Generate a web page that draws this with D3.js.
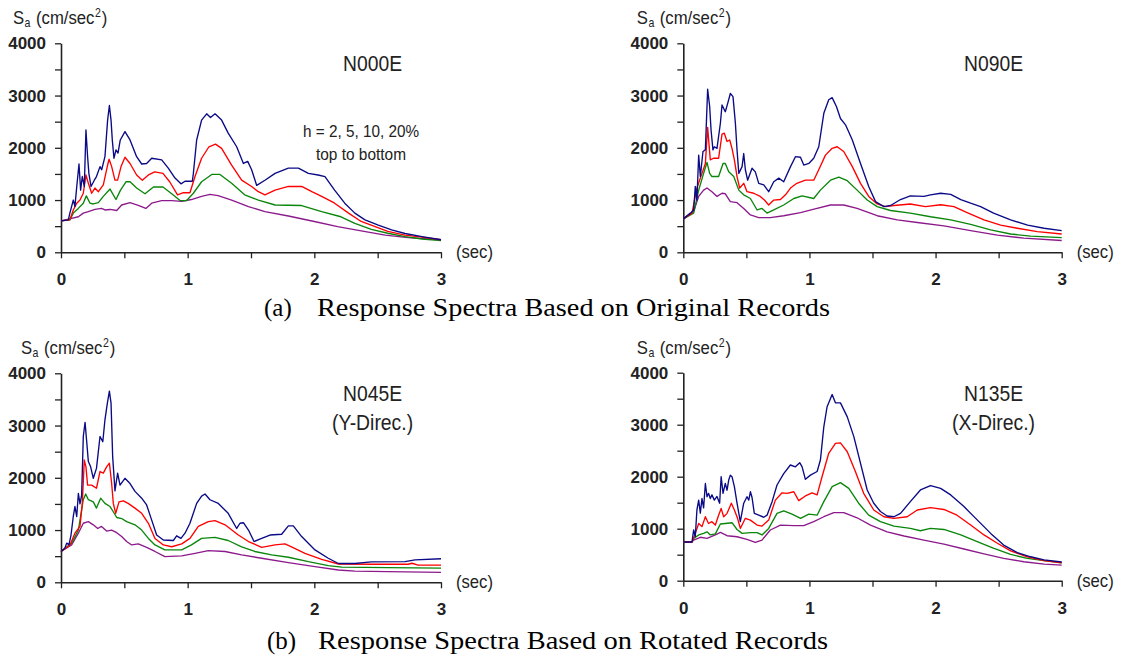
<!DOCTYPE html>
<html>
<head>
<meta charset="utf-8">
<script src="https://cdn.jsdelivr.net/npm/d3@7"></script>
<style>
  body { margin: 0; background: #fff; }
  svg { display: block; }
  .tick text { font-family: "Liberation Sans", Arial, sans-serif; font-weight: bold; font-size: 17px; fill: #222; }
  .lbl { font-family: "Liberation Sans", Arial, sans-serif; fill: #222; }
  .cap { font-family: "Liberation Serif", "Times New Roman", serif; font-size: 25px; fill: #000; }
</style>
</head>
<body>
<svg width="1126" height="659"></svg>
<script>
// tick values
const yTicks = [0, 500, 1000, 1500, 2000, 2500, 3000, 3500, 4000];
const xTicks = [0, 0.5, 1, 1.5, 2, 2.5, 3];

// damping ratios, one curve each (top to bottom)
const damping = ['h=2%', 'h=5%', 'h=10%', 'h=20%'];
const lineColors = ['#0a0a86', '#ff0000', '#0a860a', '#8c1a8c'];

// [period (sec), Sa (cm/sec2)]
const n000e_h2 = [[0,600],[0.058,620],[0.07,750],[0.097,1000],[0.11,880],[0.124,1250],[0.142,1690],[0.155,1190],[0.168,1450],[0.184,1260],[0.197,2340],[0.21,1830],[0.22,1510],[0.237,1260],[0.263,1380],[0.28,1450],[0.308,1640],[0.321,1580],[0.347,1830],[0.368,2530],[0.382,2810],[0.395,2530],[0.405,2150],[0.418,1800],[0.434,1960],[0.45,1900],[0.468,2150],[0.505,2310],[0.545,2150],[0.597,1830],[0.637,1690],[0.676,1700],[0.716,1800],[0.795,1770],[0.847,1610],[0.9,1420],[0.947,1310],[0.979,1360],[1.037,1360],[1.045,1510],[1.071,2150],[1.11,2530],[1.15,2650],[1.18,2580],[1.216,2650],[1.268,2530],[1.32,2280],[1.387,2020],[1.44,1700],[1.474,1740],[1.505,1580],[1.545,1280],[1.61,1380],[1.69,1510],[1.795,1610],[1.874,1610],[1.953,1510],[2.03,1480],[2.084,1450],[2.16,1190],[2.24,940],[2.32,750],[2.4,620],[2.505,520],[2.61,430],[2.716,360],[2.85,300],[3.0,240]];
const n000e_h5 = [[0,600],[0.07,620],[0.097,810],[0.124,940],[0.15,1000],[0.176,1130],[0.197,1480],[0.216,1320],[0.242,1130],[0.268,1230],[0.295,1160],[0.334,1290],[0.368,1670],[0.38,1780],[0.4,1640],[0.426,1380],[0.447,1380],[0.474,1640],[0.505,1820],[0.545,1700],[0.597,1480],[0.642,1380],[0.69,1480],[0.74,1540],[0.805,1510],[0.858,1350],[0.92,1100],[0.966,1140],[1.018,1140],[1.058,1450],[1.11,1800],[1.168,2020],[1.22,2070],[1.268,1990],[1.347,1670],[1.426,1380],[1.505,1260],[1.558,1160],[1.61,1100],[1.69,1190],[1.795,1260],[1.9,1260],[1.98,1160],[2.058,1070],[2.16,940],[2.27,750],[2.37,590],[2.48,490],[2.58,400],[2.716,330],[2.85,290],[3.0,240]];
const n000e_h10 = [[0,600],[0.07,620],[0.097,750],[0.137,840],[0.176,940],[0.2,1080],[0.229,940],[0.255,925],[0.295,950],[0.334,1070],[0.387,1210],[0.434,1010],[0.47,1190],[0.513,1350],[0.545,1350],[0.597,1230],[0.663,1120],[0.73,1250],[0.805,1250],[0.874,1120],[0.94,990],[0.992,990],[1.045,1130],[1.11,1350],[1.19,1490],[1.255,1490],[1.347,1320],[1.45,1100],[1.558,1000],[1.69,905],[1.9,895],[2.058,780],[2.21,680],[2.32,555],[2.45,440],[2.58,365],[2.716,300],[2.85,255],[3.0,225]];
const n000e_h20 = [[0,600],[0.084,650],[0.137,680],[0.176,750],[0.216,780],[0.268,820],[0.32,840],[0.347,810],[0.387,820],[0.44,800],[0.479,905],[0.545,950],[0.61,900],[0.67,840],[0.716,940],[0.795,990],[0.874,990],[0.953,975],[1.03,1010],[1.11,1070],[1.176,1110],[1.24,1085],[1.347,1000],[1.48,875],[1.61,780],[1.795,695],[2.0,590],[2.184,490],[2.37,410],[2.56,330],[2.74,280],[3.0,240]];

const n090e_h2 = [[0,640],[0.056,750],[0.082,810],[0.095,1260],[0.108,1000],[0.122,1860],[0.135,1450],[0.156,1930],[0.175,1960],[0.193,3120],[0.209,2790],[0.22,2340],[0.235,1960],[0.246,2020],[0.267,1990],[0.294,2470],[0.307,2820],[0.333,2690],[0.352,2850],[0.373,3040],[0.394,2980],[0.413,2470],[0.426,1960],[0.44,1510],[0.466,1640],[0.479,1890],[0.492,1580],[0.51,1380],[0.545,1610],[0.571,1540],[0.598,1320],[0.638,1290],[0.677,1160],[0.717,1350],[0.757,1420],[0.796,1350],[0.85,1640],[0.889,1830],[0.929,1820],[0.955,1670],[0.995,1700],[1.034,1800],[1.074,2020],[1.114,2660],[1.153,2920],[1.18,2960],[1.214,2790],[1.246,2560],[1.286,2440],[1.34,2150],[1.405,1700],[1.47,1260],[1.524,970],[1.59,875],[1.643,895],[1.722,1010],[1.8,1080],[1.907,1070],[1.96,1100],[2.04,1130],[2.12,1110],[2.2,1010],[2.278,940],[2.357,875],[2.46,750],[2.595,620],[2.73,520],[2.86,460],[3.0,415]];
const n090e_h5 = [[0,640],[0.069,750],[0.108,1230],[0.148,1510],[0.175,1700],[0.193,2390],[0.214,1770],[0.24,1800],[0.28,1800],[0.307,2260],[0.325,2280],[0.347,2120],[0.368,2150],[0.386,1990],[0.405,1770],[0.426,1450],[0.447,1230],[0.479,1320],[0.505,1160],[0.558,1130],[0.61,1070],[0.643,1000],[0.677,905],[0.717,1000],[0.77,1010],[0.81,1100],[0.85,1230],[0.9,1320],[0.968,1380],[1.034,1380],[1.074,1580],[1.127,1860],[1.18,1990],[1.22,2020],[1.272,1930],[1.34,1640],[1.405,1320],[1.47,1070],[1.537,925],[1.603,875],[1.67,895],[1.8,925],[1.92,875],[2.04,910],[2.146,875],[2.25,760],[2.384,620],[2.516,520],[2.648,460],[2.807,395],[3.0,350]];
const n090e_h10 = [[0,640],[0.082,750],[0.122,1190],[0.161,1510],[0.188,1720],[0.209,1510],[0.227,1450],[0.28,1450],[0.315,1700],[0.333,1700],[0.36,1540],[0.4,1450],[0.44,1190],[0.479,1100],[0.532,1030],[0.585,810],[0.624,840],[0.664,750],[0.717,810],[0.796,905],[0.876,1030],[0.942,1080],[1.034,1030],[1.087,1190],[1.167,1380],[1.233,1440],[1.3,1370],[1.378,1190],[1.458,1000],[1.537,875],[1.643,800],[1.8,750],[1.96,680],[2.12,620],[2.278,535],[2.436,430],[2.595,350],[2.754,310],[3.0,280]];
const n090e_h20 = [[0,640],[0.082,780],[0.122,1070],[0.161,1190],[0.188,1230],[0.227,1160],[0.267,1070],[0.307,1130],[0.333,1120],[0.373,970],[0.426,950],[0.479,840],[0.532,715],[0.598,665],[0.69,665],[0.796,700],[0.929,760],[1.06,840],[1.167,905],[1.272,905],[1.378,840],[1.537,700],[1.696,620],[1.855,570],[2.066,505],[2.278,415],[2.49,330],[2.7,270],[3.0,225]];

const n045e_h2 = [[0,590],[0.03,650],[0.045,750],[0.063,720],[0.079,905],[0.097,1260],[0.11,1450],[0.124,1260],[0.137,1700],[0.15,1500],[0.163,1670],[0.176,2790],[0.19,3060],[0.203,2690],[0.216,2310],[0.234,2210],[0.255,1990],[0.28,2180],[0.308,2790],[0.33,2690],[0.347,3110],[0.366,3430],[0.382,3660],[0.395,3430],[0.408,2400],[0.426,1750],[0.447,2090],[0.466,1860],[0.505,1990],[0.545,1890],[0.584,1740],[0.637,1610],[0.676,1480],[0.716,1190],[0.755,905],[0.808,810],[0.887,800],[0.913,890],[0.947,840],[0.979,940],[1.018,1130],[1.071,1510],[1.11,1650],[1.137,1690],[1.176,1580],[1.242,1510],[1.32,1320],[1.387,1030],[1.413,1130],[1.44,1140],[1.48,1000],[1.524,780],[1.584,840],[1.65,905],[1.742,920],[1.795,1080],[1.834,1080],[1.9,875],[2.005,620],[2.11,460],[2.19,360],[2.32,360],[2.45,390],[2.716,395],[2.795,430],[3.0,450]];
const n045e_h5 = [[0,590],[0.071,715],[0.11,940],[0.15,1070],[0.168,1510],[0.184,2340],[0.197,2210],[0.21,1860],[0.242,1860],[0.28,1800],[0.308,2120],[0.334,2090],[0.36,2210],[0.382,2280],[0.4,1890],[0.413,1510],[0.432,1320],[0.458,1540],[0.492,1560],[0.53,1510],[0.584,1420],[0.637,1320],[0.69,1130],[0.742,840],[0.808,715],[0.874,680],[0.953,735],[1.018,840],[1.084,1070],[1.163,1160],[1.216,1180],[1.295,1100],[1.4,905],[1.48,780],[1.584,670],[1.69,715],[1.768,735],[1.82,680],[1.926,555],[2.058,440],[2.19,350],[2.45,345],[2.74,345],[2.77,365],[2.82,330],[3.0,330]];
const n045e_h10 = [[0,590],[0.084,750],[0.137,1000],[0.176,1580],[0.195,1690],[0.216,1580],[0.255,1540],[0.28,1420],[0.313,1610],[0.347,1510],[0.387,1450],[0.413,1350],[0.44,1240],[0.479,1220],[0.518,1160],[0.584,1100],[0.637,1000],[0.69,840],[0.742,715],[0.82,620],[0.953,620],[1.03,715],[1.11,840],[1.216,860],[1.32,800],[1.426,680],[1.53,590],[1.663,525],[1.795,480],[1.953,395],[2.11,320],[2.216,290],[2.58,280],[3.0,270]];
const n045e_h20 = [[0,590],[0.084,715],[0.137,940],[0.176,1130],[0.216,1160],[0.255,1100],[0.29,1030],[0.32,1070],[0.36,980],[0.4,1000],[0.44,950],[0.479,875],[0.518,780],[0.558,715],[0.61,735],[0.676,670],[0.742,590],[0.82,490],[0.953,505],[1.058,555],[1.163,605],[1.295,590],[1.426,525],[1.584,460],[1.795,375],[2.005,300],[2.19,235],[2.32,215],[2.58,205],[3.0,190]];

const n135e_h2 = [[0,745],[0.069,745],[0.082,975],[0.095,850],[0.108,1360],[0.122,1550],[0.135,1300],[0.148,1580],[0.161,1400],[0.175,1870],[0.188,1615],[0.2,1680],[0.214,1580],[0.227,1650],[0.246,1550],[0.267,1620],[0.288,1490],[0.3,2000],[0.315,1680],[0.333,1870],[0.347,1740],[0.36,1935],[0.373,2030],[0.386,2000],[0.405,1810],[0.426,1490],[0.452,1135],[0.479,1490],[0.505,1615],[0.519,1550],[0.532,1710],[0.545,1600],[0.563,1295],[0.598,1260],[0.638,1220],[0.664,1260],[0.704,1520],[0.743,1840],[0.796,2060],[0.849,2225],[0.889,2190],[0.923,2270],[0.942,2190],[0.968,1950],[1.008,2030],[1.061,2100],[1.087,2320],[1.114,2960],[1.14,3345],[1.18,3580],[1.206,3420],[1.246,3420],[1.3,3150],[1.352,2770],[1.405,2255],[1.458,1745],[1.51,1490],[1.563,1330],[1.616,1245],[1.67,1230],[1.722,1295],[1.8,1520],[1.88,1745],[1.96,1830],[2.04,1775],[2.12,1650],[2.225,1425],[2.33,1170],[2.437,910],[2.54,685],[2.648,540],[2.754,460],[2.86,400],[3.0,360]];
const n135e_h5 = [[0,745],[0.069,745],[0.095,910],[0.122,1100],[0.148,1040],[0.175,1230],[0.2,1100],[0.227,1135],[0.254,1070],[0.28,1260],[0.3,1390],[0.32,1230],[0.347,1295],[0.381,1490],[0.405,1360],[0.43,1200],[0.452,1005],[0.492,1200],[0.532,1165],[0.585,1070],[0.624,1050],[0.677,1165],[0.73,1550],[0.783,1690],[0.823,1680],[0.876,1710],[0.915,1540],[0.968,1630],[1.021,1690],[1.061,1650],[1.1,2000],[1.153,2450],[1.206,2640],[1.246,2650],[1.3,2480],[1.365,2095],[1.43,1680],[1.51,1360],[1.59,1230],[1.67,1200],[1.775,1230],[1.855,1360],[1.96,1405],[2.066,1370],[2.17,1260],[2.278,1070],[2.384,880],[2.49,720],[2.595,575],[2.727,460],[2.86,385],[3.0,345]];
const n135e_h10 = [[0,745],[0.069,745],[0.082,815],[0.122,880],[0.161,910],[0.188,940],[0.214,880],[0.254,900],[0.294,1090],[0.333,1100],[0.386,1115],[0.426,985],[0.466,910],[0.532,925],[0.585,925],[0.624,880],[0.677,1005],[0.743,1295],[0.796,1345],[0.862,1280],[0.93,1200],[0.995,1280],[1.061,1260],[1.114,1520],[1.18,1810],[1.246,1885],[1.312,1775],[1.39,1490],[1.47,1260],[1.563,1135],[1.67,1050],[1.8,1005],[1.88,960],[1.96,1005],[2.066,985],[2.2,880],[2.33,750],[2.463,620],[2.595,505],[2.727,430],[2.86,385],[3.0,345]];
const n135e_h20 = [[0,745],[0.069,745],[0.082,780],[0.135,835],[0.188,815],[0.254,880],[0.294,930],[0.347,865],[0.426,845],[0.505,795],[0.571,735],[0.624,780],[0.69,975],[0.77,1070],[0.876,1060],[0.955,1060],[1.034,1135],[1.114,1230],[1.193,1310],[1.272,1310],[1.378,1210],[1.484,1070],[1.616,940],[1.75,860],[1.907,780],[2.066,705],[2.225,610],[2.384,515],[2.54,430],[2.7,365],[2.86,320],[3.0,300]];

const svg = d3.select('svg');

// panel layout
const panels = [
  {title: ['N000E'], series: [n000e_h2, n000e_h5, n000e_h10, n000e_h20], left: 61, top: 43.3, w: 380, h: 209, note: true, ylx: -48},
  {title: ['N090E'], series: [n090e_h2, n090e_h5, n090e_h10, n090e_h20], left: 683.3, top: 43.3, w: 378.4, h: 209, ylx: -46.5},
  {title: ['N045E', '(Y-Direc.)'], series: [n045e_h2, n045e_h5, n045e_h10, n045e_h20], left: 61, top: 373.3, w: 380, h: 209, ylx: -40},
  {title: ['N135E', '(X-Direc.)'], series: [n135e_h2, n135e_h5, n135e_h10, n135e_h20], left: 683.3, top: 372.7, w: 378.4, h: 208, ylx: -46.5}
];

// widths of the narrow labels as they appear in the figure
const titleWidth = {'N000E': 59, 'N090E': 59, 'N045E': 59, 'N135E': 59, '(Y-Direc.)': 81, '(X-Direc.)': 83};

panels.forEach(p => {
  const g = svg.append('g').attr('transform', `translate(${p.left},${p.top})`);

  const x = d3.scaleLinear().domain([0, 3]).range([0, p.w]);
  const y = d3.scaleLinear().domain([0, 4000]).range([p.h, 0]);

  const yAxis = d3.axisLeft(y)
    .tickValues(yTicks)
    .tickSize(6)
    .tickSizeOuter(0)
    .tickPadding(9)
    .tickFormat(d => d % 1000 === 0 ? d : '');
  const xAxis = d3.axisBottom(x)
    .tickValues(xTicks)
    .tickSize(6)
    .tickSizeOuter(0)
    .tickPadding(15)
    .tickFormat(d => Number.isInteger(d) ? d : '');

  const yg = g.append('g').call(yAxis);
  const xg = g.append('g').attr('transform', `translate(0,${p.h})`).call(xAxis);
  [yg, xg].forEach(a => {
    a.select('.domain').attr('stroke', '#222').attr('stroke-width', 1.6);
    a.selectAll('.tick line').attr('stroke', '#222').attr('stroke-width', 1.3);
  });

  const line = d3.line().x(d => x(d[0])).y(d => y(d[1]));

  // draw 20% first so 2% ends up on top
  p.series.slice().reverse().forEach((s, i) => {
    const k = p.series.length - 1 - i;
    g.append('path')
      .datum(s)
      .attr('fill', 'none')
      .attr('stroke', lineColors[k])
      .attr('stroke-width', 1.35)
      .attr('stroke-linejoin', 'round')
      .attr('d', line)
      .append('title').text(damping[k]);
  });

  // y label  S_a (cm/sec^2), narrow face squeezed to the figure's width
  const yl = g.append('text').attr('class', 'lbl')
    .attr('transform', `translate(${p.ylx},-19) scale(0.88,1)`)
    .style('font-size', '19px');
  yl.append('tspan').text('S');
  yl.append('tspan').attr('dy', 3).attr('dx', 0.5).style('font-size', '12px').text('a');
  yl.append('tspan').attr('dy', -3).attr('dx', 1).text(' (cm/sec');
  yl.append('tspan').attr('dy', -7).attr('dx', 0.5).style('font-size', '12px').text('2');
  yl.append('tspan').attr('dy', 7).attr('dx', 1).text(')');

  g.append('text').attr('class', 'lbl')
    .attr('x', p.w + 15).attr('y', p.h + 6)
    .style('font-size', '19px')
    .attr('textLength', 37).attr('lengthAdjust', 'spacingAndGlyphs')
    .text('(sec)');

  p.title.forEach((t, i) => {
    g.append('text').attr('class', 'lbl')
      .attr('x', p.w * 0.82).attr('y', 28 + i * 29)
      .attr('text-anchor', 'middle')
      .style('font-size', '22px')
      .attr('textLength', titleWidth[t]).attr('lengthAdjust', 'spacingAndGlyphs')
      .text(t);
  });

  if (p.note) {
    [['h = 2, 5, 10, 20%', 116], ['top to bottom', 90]].forEach(([t, w], i) => {
      g.append('text').attr('class', 'lbl')
        .attr('x', 300).attr('y', 94 + i * 23)
        .attr('text-anchor', 'middle')
        .style('font-size', '17px')
        .attr('textLength', w).attr('lengthAdjust', 'spacingAndGlyphs')
        .text(t);
    });
  }
});

// captions
[['(a)', 'Response Spectra Based on Original Records', 264, 317, 513, 316], ['(b)', 'Response Spectra Based on Rotated Records', 267, 318, 510, 649]]
  .forEach(([a, t, xa, xt, w, yy]) => {
    svg.append('text').attr('class', 'cap').attr('x', xa).attr('y', yy).text(a);
    svg.append('text').attr('class', 'cap').attr('x', xt).attr('y', yy)
      .attr('textLength', w).attr('lengthAdjust', 'spacingAndGlyphs').text(t);
  });
</script>
</body>
</html>
